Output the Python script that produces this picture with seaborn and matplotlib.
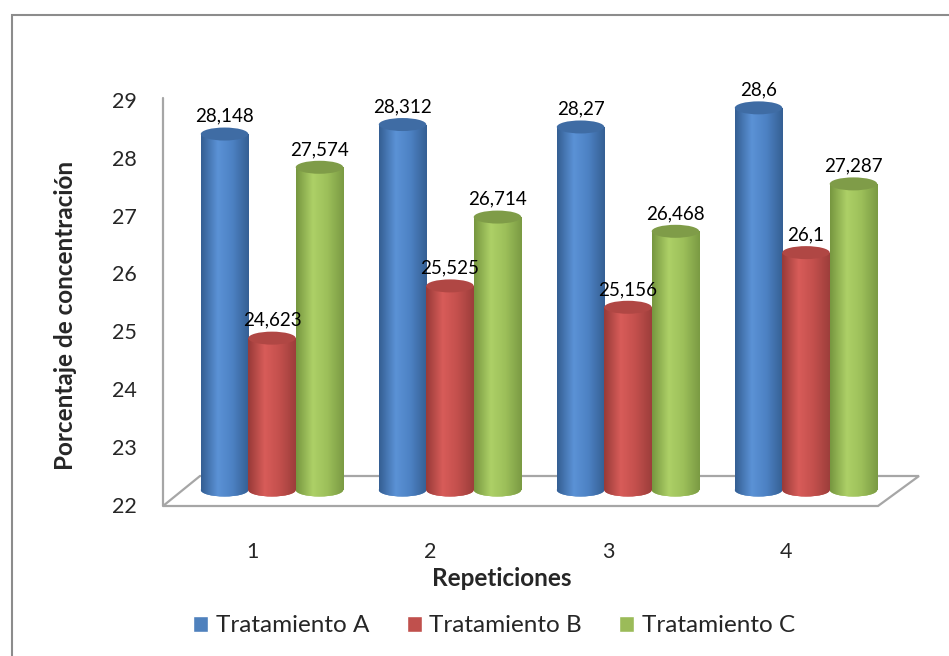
import matplotlib.pyplot as plt
import numpy as np
import pandas as pd
import seaborn as sns
from matplotlib.colors import LinearSegmentedColormap
from matplotlib.lines import Line2D
from matplotlib.patches import Ellipse, Polygon, Rectangle
from matplotlib.transforms import ScaledTranslation

repeticiones = ["1", "2", "3", "4"]
tratamientos = ["Tratamiento A", "Tratamiento B", "Tratamiento C"]
trat_a = [28.148, 28.312, 28.27, 28.6]
trat_b = [24.623, 25.525, 25.156, 26.1]
trat_c = [27.574, 26.714, 26.468, 27.287]
y_ticks = [22, 23, 24, 25, 26, 27, 28, 29]

colors = ["#4F81BD", "#C0504D", "#9BBB59"]
# cylinder shading: left edge, highlight, body, right edge
shades = [
    ["#345E92", "#5B92D6", "#4D82C4", "#355F93"],
    ["#973A38", "#D85C59", "#C4504D", "#9C3E3B"],
    ["#76963F", "#ADD067", "#9DC05A", "#7A9A43"],
]
top_colors = ["#3F6CA4", "#B04744", "#7F9C48"]

W, H = 949, 656


def px(x, y):
    # pixel position (from top-left) -> figure fraction
    return x / W, 1 - y / H


sns.set_theme(style="white")
plt.rcParams["font.family"] = ["Lato", "DejaVu Sans"]

fig = plt.figure(figsize=(W / 100, H / 100), dpi=100)
ax = fig.add_axes([183 / W, (H - 501.6) / H, 712 / W, (501.6 - 84.7) / H])
ax.set_facecolor("none")

df = pd.DataFrame({
    "Repeticiones": repeticiones * 3,
    "Tratamiento": np.repeat(tratamientos, len(repeticiones)),
    "valor": trat_a + trat_b + trat_c,
})
sns.barplot(data=df, x="Repeticiones", y="valor", hue="Tratamiento",
            palette=colors, saturation=1, width=0.8, ax=ax, legend=True)

base = y_ticks[0]
eh = 13 / 57.9  # ellipse height in data units
for container, shade, top in zip(ax.containers, shades, top_colors):
    cmap = LinearSegmentedColormap.from_list("cyl", list(zip([0, 0.35, 0.65, 1], shade)))
    grad = np.linspace(0, 1, 256).reshape(1, -1)
    for bar in container:
        v = bar.get_height()
        x0, w = bar.get_x(), bar.get_width()
        cx = x0 + w / 2
        bar.set_y(base)
        bar.set_height(v - base)
        bar.set_edgecolor("none")
        bar.set_zorder(2)
        im = ax.imshow(grad, cmap=cmap, extent=(x0, x0 + w, base, v),
                       aspect="auto", zorder=2.1, interpolation="bicubic")
        im.set_clip_path(bar)
        bottom = Ellipse((cx, base), w, eh, facecolor=shade[2], edgecolor="none", zorder=1)
        ax.add_patch(bottom)
        im2 = ax.imshow(grad, cmap=cmap, extent=(x0, x0 + w, base - eh, base + eh),
                        aspect="auto", zorder=1.1, interpolation="bicubic")
        im2.set_clip_path(bottom)
        ax.add_patch(Ellipse((cx, v), w, eh, facecolor=top, edgecolor="none", zorder=3))
        ax.text(cx, v + eh / 2 + 0.1, f"{v:g}".replace(".", ","), ha="center",
                va="baseline", fontsize=13.5, color="black", zorder=4)

handles, labels = ax.get_legend_handles_labels()
ax.get_legend().remove()

ax.set_xlim(-0.5, 3.5)
ax.set_ylim(21.8, 29)
ax.set_yticks(y_ticks)
ax.set_xlabel("")
ax.set_ylabel("")
for s in ax.spines.values():
    s.set_visible(False)
ax.tick_params(axis="y", length=0, pad=33, labelsize=15.5)
ax.tick_params(axis="x", length=0, pad=29, labelsize=15.5)
for lbl in ax.get_yticklabels():
    lbl.set_transform(lbl.get_transform() + ScaledTranslation(0, -0.15, fig.dpi_scale_trans))
for lbl in ax.get_xticklabels():
    lbl.set_transform(lbl.get_transform() + ScaledTranslation(-0.20, 0, fig.dpi_scale_trans))

# 3D floor and value axis line
floor = Polygon([px(163, 506), px(878, 506), px(919, 476), px(200, 476)],
                closed=True, transform=fig.transFigure, facecolor="white",
                edgecolor="#A6A6A6", lw=1.6, zorder=-1)
fig.add_artist(floor)
x_ax, y_top = px(163, 98)
_, y_bot = px(163, 506)
fig.add_artist(Line2D([x_ax, x_ax], [y_bot, y_top], transform=fig.transFigure,
                      color="#A6A6A6", lw=1.6, zorder=-1))

# chart border
bx, by = px(12, 15)
fig.add_artist(Rectangle((bx, -0.1), 1.2, by + 0.1, transform=fig.transFigure,
                         facecolor="none", edgecolor="#8C8C8C", lw=1.5, zorder=-2))

fig.text(*px(66, 315), "Porcentaje de concentración", rotation=90, ha="center",
         va="center", fontsize=17.5, fontweight="bold")
fig.text(*px(502, 578), "Repeticiones", ha="center", va="center",
         fontsize=17.5, fontweight="bold")

fig.legend(handles, labels, loc="center", bbox_to_anchor=px(494, 626), ncol=3,
           frameon=False, fontsize=17.5, handlelength=0.62, handleheight=0.62,
           handletextpad=0.3, columnspacing=1.55)

fig.savefig("out.png", dpi=100)
plt.close(fig)
